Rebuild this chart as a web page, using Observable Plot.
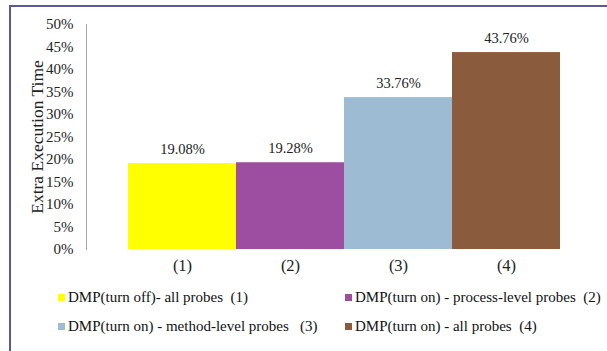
<!DOCTYPE html>
<html>
<head>
<meta charset="utf-8">
<script src="https://cdn.jsdelivr.net/npm/d3@7"></script>
<script src="https://cdn.jsdelivr.net/npm/@observablehq/plot@0.6"></script>
<style>
  html, body { margin: 0; padding: 0; background: #fff; }
  body { position: relative; width: 607px; height: 351px; overflow: hidden; font-family: "Liberation Serif", serif; }
  .frame { position: absolute; left: 9px; top: 5px; width: 598px; height: 346px;
           border-top: 2px solid #5a5a98; border-left: 2px solid #5a5a98; box-sizing: border-box; }
  #chart { position: absolute; left: 0; top: 0; }
  .legend { position: absolute; left: 0; top: 0; width: 607px; font-size: 15px; color: #111; }
  .item { position: absolute; white-space: pre; display: flex; align-items: center; }
  .swatch { width: 7px; height: 7px; margin-right: 3px; display: inline-block; }
</style>
</head>
<body>
<div class="frame"></div>
<div id="chart"></div>
<div class="legend" id="legend"></div>
<script>
// Extra execution time of DMP under four probe configurations
const categories = ["(1)", "(2)", "(3)", "(4)"];
const values = [0.1908, 0.1928, 0.3376, 0.4376];
const seriesNames = [
  "DMP(turn off)- all probes  (1)",
  "DMP(turn on) - process-level probes  (2)",
  "DMP(turn on) - method-level probes   (3)",
  "DMP(turn on) - all probes  (4)"
];
const colors = ["#ffff00", "#9e4ea0", "#9dbcd3", "#8a5b3c"];
const yTicks = [0, 0.05, 0.1, 0.15, 0.2, 0.25, 0.3, 0.35, 0.4, 0.45, 0.5];

const data = categories.map((c, i) => ({cat: c, value: values[i], name: seriesNames[i]}));
const pct = d => Math.round(d * 100) + "%";

const chart = Plot.plot({
  width: 607,
  height: 280,
  marginTop: 24,
  marginBottom: 31,
  marginLeft: 86,
  marginRight: 6,
  style: {fontFamily: "'Liberation Serif', serif", background: "transparent", color: "#222"},
  x: {domain: categories, paddingInner: 0, paddingOuter: 0.368},
  y: {domain: [0, 0.5]},
  color: {domain: categories, range: colors},
  marks: [
    Plot.barY(data, {x: "cat", y: "value", fill: "cat", inset: 0}),
    Plot.text(data, {x: "cat", y: "value", text: d => (d.value * 100).toFixed(2) + "%",
      dy: -14, fontSize: 14.5, fill: "#222"}),
    Plot.frame({anchor: "left", stroke: "#a6a6a6"}),
    Plot.axisY({ticks: yTicks, tickFormat: pct, tickSize: 0, tickPadding: 13, fontSize: 15,
      label: null}),
    Plot.axisY({ticks: [], label: "Extra Execution Time", labelAnchor: "center",
      labelArrow: "none", labelOffset: 56, fontSize: 17.5}),
    Plot.axisX({tickSize: 0, tickPadding: 10, fontSize: 16.5, label: null})
  ]
});
document.getElementById("chart").appendChild(chart);

// Legend below the plot, two items per row
const legend = d3.select("#legend");
const cols = [58, 345];
const rows = [298, 327];
data.forEach((d, i) => {
  const item = legend.append("div").attr("class", "item")
    .style("left", cols[i % 2] + "px")
    .style("top", (rows[Math.floor(i / 2)] - 9) + "px");
  item.append("span").attr("class", "swatch").style("background", colors[i]);
  item.append("span").text(d.name);
});
</script>
</body>
</html>
